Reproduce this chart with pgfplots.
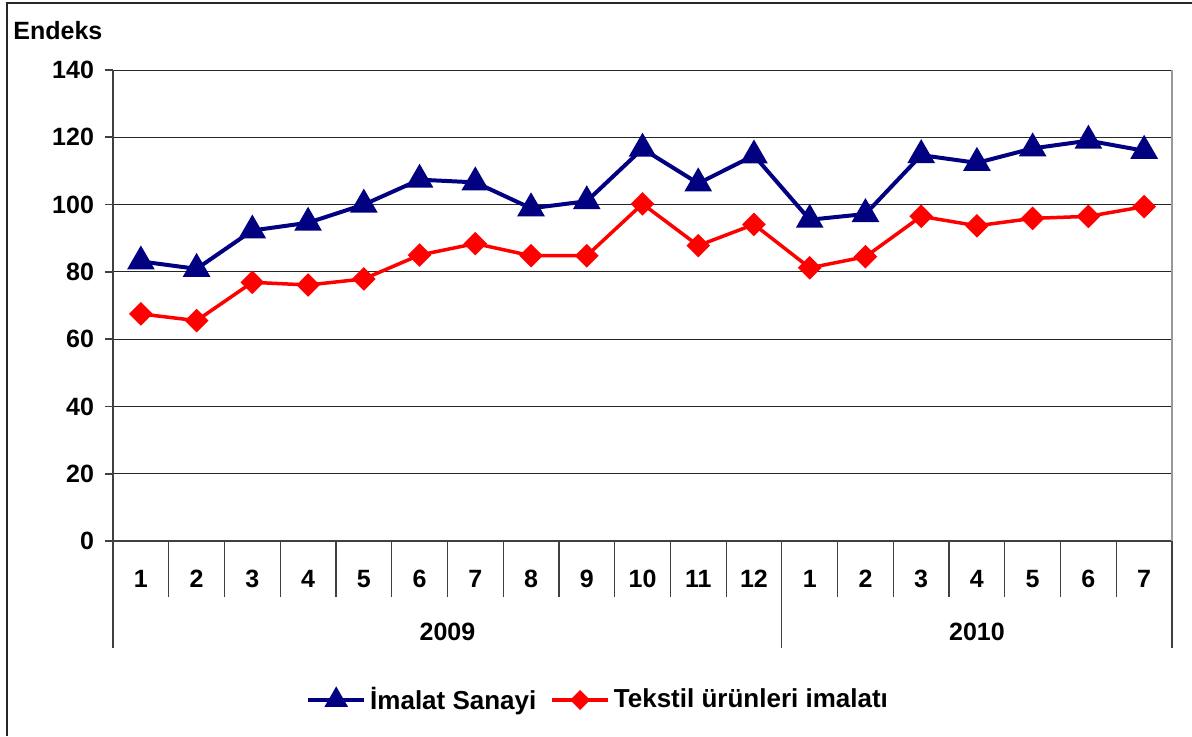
\documentclass[border=0pt]{standalone}
\usepackage{pgfplots}
\pgfplotsset{compat=1.18}
\usepackage{fontspec}
\setmainfont{Liberation Sans}
\definecolor{navyb}{RGB}{0,0,128}
\definecolor{redr}{RGB}{255,0,0}
\newcommand{\lf}{\bfseries\fontsize{12.5}{14}\selectfont}
\begin{document}
\begin{tikzpicture}
\useasboundingbox (0,0) rectangle (596pt,368pt);
\draw[black!85, line width=0.8pt] (3.5pt,0) -- (3.5pt,366.5pt) -- (596pt,366.5pt);
\node[anchor=west, font=\lf, inner sep=0pt] at (6.5pt,352.7pt) {Endeks};
\begin{axis}[
  at={(56.5pt,97.5pt)}, anchor=south west,
  width=529.5pt, height=235.5pt, scale only axis,
  xmin=0.5, xmax=19.5, ymin=0, ymax=140,
  axis x line*=bottom, axis y line*=left,
  axis line style={black!75, line width=0.8pt},
  xtick={1,...,19},
  xticklabels={1,2,3,4,5,6,7,8,9,10,11,12,1,2,3,4,5,6,7},
  xtick style={draw=none},
  ytick={0,20,...,140},
  ytick style={black!75, line width=0.8pt},
  major tick length=4pt, tick align=outside,
  ymajorgrids, grid style={black!85, line width=0.5pt},
  /pgf/number format/assume math mode=true,
  tick label style={font=\lf},
  x tick label style={anchor=center, text height=9pt, text depth=0pt, inner sep=0pt, yshift=-14.5pt},
  y tick label style={xshift=-2pt},
  clip=false,
  legend style={at={(0.459,-0.3376)}, anchor=center, draw=none,
    font=\bfseries\fontsize{13}{15}\selectfont, legend columns=2,
    /tikz/every even column/.append style={column sep=5pt}},
  legend image code/.code={\draw[mark repeat=2,mark phase=2, every mark/.append style={scale=0.8}] plot coordinates {(0pt,0pt) (14pt,0pt) (28pt,0pt)};},
]
\pgfplotsinvokeforeach{0.5,1.5,...,19.5}{\draw[black!75, line width=0.6pt] (axis cs:#1,0) -- ++(0pt,-28pt);}
\draw[black!75, line width=0.6pt] (axis cs:0.5,0) -- ++(0pt,-53.5pt);
\draw[black!75, line width=0.6pt] (axis cs:12.5,0) -- ++(0pt,-53.5pt);
\draw[black!75, line width=0.6pt] (axis cs:19.5,0) -- ++(0pt,-53.5pt);
\draw[gray!80, line width=1pt] (axis cs:19.5,0) -- (axis cs:19.5,140);
\node[font=\lf] at (axis cs:6.5,0) [yshift=-45.5pt] {2009};
\node[font=\lf] at (axis cs:16,0) [yshift=-45.5pt] {2010};
\addplot[navyb, line width=2pt, mark=triangle*, mark size=6pt, mark options={solid, fill=navyb}] coordinates {
(1,83.1) (2,80.9) (3,92.3) (4,94.6) (5,100.0) (6,107.4) (7,106.6) (8,98.9) (9,101.0) (10,116.6)
(11,106.3) (12,114.6) (13,95.5) (14,97.2) (15,114.7) (16,112.4) (17,116.7) (18,119.0) (19,116.0)};
\addlegendentry{İmalat Sanayi}
\addplot[redr, line width=1.75pt, mark=square*, mark size=3.3pt, mark options={solid, rotate=45, fill=redr}] coordinates {
(1,67.5) (2,65.5) (3,76.9) (4,76.1) (5,77.9) (6,85.0) (7,88.4) (8,84.8) (9,84.8) (10,100.2)
(11,87.8) (12,94.1) (13,81.2) (14,84.5) (15,96.5) (16,93.7) (17,95.9) (18,96.5) (19,99.4)};
\addlegendentry{Tekstil ürünleri imalatı}
\end{axis}
\end{tikzpicture}
\end{document}
